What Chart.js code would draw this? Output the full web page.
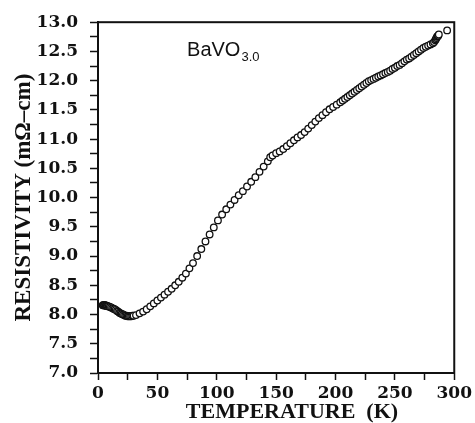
<!DOCTYPE html>
<html>
<head>
<meta charset="utf-8">
<script src="https://cdn.jsdelivr.net/npm/chart.js@4.4.1/dist/chart.umd.min.js"></script>
<style>
html,body{margin:0;padding:0;background:#fff;}
#wrap{width:475px;height:423px;}
</style>
</head>
<body>
<div id="wrap"><canvas id="plot" width="475" height="423"></canvas></div>
<script>
// BaVO3.0 resistivity vs temperature
var temperature=[4,4.5,5,5.5,6,6.5,7,7.5,8,9,10,11,12,13,14,15,16,17,18,19,20,21,22,23,24,25,26,27,28,29,30,
	32,35,38,41,44,47,50,53,56,59,62,65,68,71,74,77,80,83.5,87,90.5,94,97.5,101,104.5,108,111.5,115,118.5,
	122,125.5,129,132.5,136,139.5,143,145,147,150,153,156,159,162,165,168,171,174,177,180,183,186,189,192,
	195,198,201,204,206,208,210,212,214,216,218,220,222,224,226,228,230,232,234,236,238,240,242,244,246,248,
	250,252,254,256,258,260,262,264,266,268,270,272,274,276,278,280,282,283,284,284.5,285,285.5,286,286.5,287,294];
var resistivity=[8.16,8.16,8.16,8.16,8.16,8.15,8.15,8.15,8.14,8.14,8.13,8.12,8.11,8.10,8.09,8.08,8.06,8.05,8.03,8.02,8.01,8.00,7.99,7.98,7.98,7.97,7.97,7.97,7.97,7.98,7.98,
	7.99,8.02,8.05,8.09,8.14,8.19,8.24,8.29,8.34,8.39,8.44,8.50,8.56,8.63,8.70,8.79,8.88,9.00,9.12,9.25,9.37,9.49,9.61,9.71,9.80,9.88,9.96,10.04,
	10.11,10.19,10.27,10.35,10.44,10.53,10.62,10.69,10.72,10.76,10.79,10.83,10.88,10.93,10.98,11.03,11.07,11.12,11.18,11.24,11.30,11.36,11.41,11.46,
	11.51,11.55,11.59,11.63,11.66,11.69,11.72,11.75,11.78,11.81,11.84,11.87,11.90,11.93,11.96,11.99,12.01,12.03,12.05,12.07,12.09,12.11,12.13,12.15,12.17,12.20,
	12.22,12.25,12.27,12.30,12.33,12.36,12.38,12.41,12.44,12.47,12.50,12.53,12.56,12.58,12.60,12.62,12.64,12.66,12.69,12.71,12.73,12.75,12.76,12.77,12.79,12.86];
var xRange=[0,300];
var yRange=[7,13];
var sampleName='BaVO';
var sampleSub='3.0';
var xTitle='TEMPERATURE  (K)';
var yTitle='RESISTIVITY (m\u03A9\u2013cm)';

function buildPoints(){
	var pts=[];
	for(var i=0;i<temperature.length;i++){
		pts.push({x:temperature[i],y:resistivity[i]});
	}
	return pts;
}

var frame={
	id:'frame',
	afterDraw:function(chart){
		var ctx=chart.ctx;
		var a=chart.chartArea;
		var xs=chart.scales.x, ys=chart.scales.y;
		ctx.save();
		ctx.strokeStyle='#111';
		ctx.lineWidth=2;
		ctx.strokeRect(a.left,a.top,a.right-a.left,a.bottom-a.top);
		// sample label with subscript
		ctx.fillStyle='#111';
		ctx.textBaseline='alphabetic';
		ctx.textAlign='left';
		ctx.font='20px "Liberation Sans", Arial, sans-serif';
		var tx=xs.getPixelForValue(75), ty=ys.getPixelForValue(12.42);
		ctx.fillText(sampleName,tx,ty);
		var w=ctx.measureText(sampleName).width;
		ctx.font='13px "Liberation Sans", Arial, sans-serif';
		ctx.fillText(sampleSub,tx+w+1,ty+5);
		// x axis title
		ctx.font='bold 22px "Liberation Serif", "Times New Roman", serif';
		ctx.textAlign='center';
		ctx.textBaseline='middle';
		ctx.fillText(xTitle,292,412);
		ctx.restore();
	}
};

var ctx=document.getElementById('plot');
var chart=new Chart(ctx,{
	type:'scatter',
	data:{
		datasets:[{
			data:buildPoints(),
			showLine:false,
			pointStyle:'circle',
			pointRadius:3.3,
			pointBorderWidth:1.3,
			borderColor:'#111',
			backgroundColor:'#fff'
		}]
	},
	options:{
		responsive:false,
		animation:false,
		layout:{padding:{left:0,right:20,top:19,bottom:0}},
		plugins:{legend:{display:false},tooltip:{enabled:false}},
		scales:{
			x:{
				type:'linear',min:xRange[0],max:xRange[1],
				afterFit:function(s){s.height=50;},
				border:{color:'#111',width:2},
				grid:{drawOnChartArea:false,tickLength:7,tickColor:'#111',tickWidth:1.5},
				ticks:{
					stepSize:25,autoSkip:false,maxRotation:0,padding:3,color:'#111',
					font:{family:'"DejaVu Serif", serif',weight:'bold',size:17},
					callback:function(v){return v%50===0?v:'';}
				}
			},
			y:{
				type:'linear',min:yRange[0],max:yRange[1],
				afterFit:function(s){s.width=98;},
				border:{color:'#111',width:2},
				grid:{drawOnChartArea:false,tickLength:8,tickColor:'#111',tickWidth:1.5},
				title:{
					display:true,text:yTitle,color:'#111',padding:{top:10,bottom:0},
					font:{family:'"Liberation Serif", "Times New Roman", serif',weight:'bold',size:23,lineHeight:1.2}
				},
				ticks:{
					stepSize:0.25,autoSkip:false,padding:12,color:'#111',
					font:{family:'"DejaVu Serif", serif',weight:'bold',size:17},
					callback:function(v){
						return Math.abs(v*2-Math.round(v*2))<1e-6?v.toFixed(1):'';
					}
				}
			}
		}
	},
	plugins:[frame]
});
</script>
</body>
</html>
